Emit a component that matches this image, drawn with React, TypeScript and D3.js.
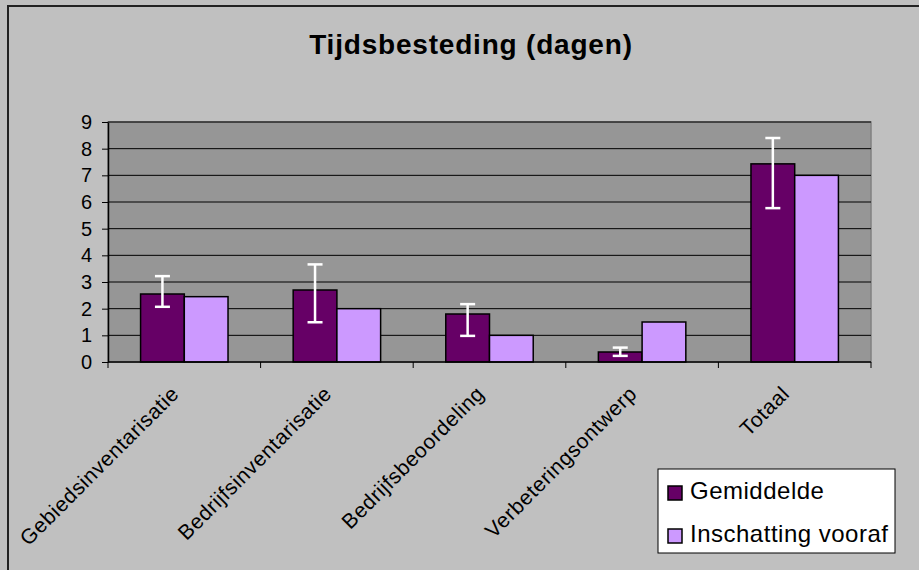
import React, { useEffect, useRef } from "react";
import * as d3 from "d3";

const categories = [
  "Gebiedsinventarisatie",
  "Bedrijfsinventarisatie",
  "Bedrijfsbeoordeling",
  "Verbeteringsontwerp",
  "Totaal",
];
const seriesNames = ["Gemiddelde", "Inschatting vooraf"];
const gemiddelde = [2.55, 2.7, 1.8, 0.375, 7.43];
const inschatting = [2.45, 2.0, 1.0, 1.5, 7.0];
const errHigh = [3.22, 3.66, 2.17, 0.54, 8.4];
const errLow = [2.07, 1.49, 0.98, 0.23, 5.77];
const yTicks = [0, 1, 2, 3, 4, 5, 6, 7, 8, 9];

const colors = ["#660066", "#CC99FF"];

const App = () => {
  const chartRef = useRef<SVGSVGElement>(null);

  useEffect(() => {
    const svg = d3.select(chartRef.current);
    svg.selectAll("*").remove();

    const width = 919;
    const height = 570;
    const plot = { left: 108, right: 871, top: 122, bottom: 362 };
    const font = "Arial, 'Liberation Sans', sans-serif";

    // chart background + border (left/top visible only)
    svg.append("rect")
      .attr("x", 0).attr("y", 0)
      .attr("width", width).attr("height", height)
      .attr("fill", "#C0C0C0");
    svg.append("rect")
      .attr("x", 8).attr("y", 6)
      .attr("width", width + 20).attr("height", height + 20)
      .attr("fill", "#C0C0C0")
      .attr("stroke", "#222")
      .attr("stroke-width", 2);

    // title
    svg.append("text")
      .attr("x", 471).attr("y", 54)
      .attr("text-anchor", "middle")
      .attr("font-family", font)
      .attr("font-weight", "bold")
      .attr("font-size", 28)
      .attr("letter-spacing", 0.8)
      .text("Tijdsbesteding (dagen)");

    const yScale = d3.scaleLinear().domain([0, 9]).range([plot.bottom, plot.top]);
    const x0 = d3.scaleBand().domain(categories).range([plot.left, plot.right]).padding(0);
    const x1 = d3.scaleBand()
      .domain(seriesNames)
      .range([0, x0.bandwidth()])
      .paddingInner(0)
      .paddingOuter(0.745);

    // plot area
    svg.append("rect")
      .attr("x", plot.left).attr("y", plot.top)
      .attr("width", plot.right - plot.left)
      .attr("height", plot.bottom - plot.top)
      .attr("fill", "#969696")
      .attr("stroke", "#808080")
      .attr("stroke-width", 1.5);

    // gridlines
    svg.append("g")
      .selectAll("line")
      .data(yTicks.slice(1))
      .enter().append("line")
      .attr("x1", plot.left).attr("x2", plot.right)
      .attr("y1", d => yScale(d)).attr("y2", d => yScale(d))
      .attr("stroke", "#000")
      .attr("stroke-width", 1);

    // bars
    const values = [gemiddelde, inschatting];
    values.forEach((vals, si) => {
      svg.append("g")
        .selectAll("rect")
        .data(vals)
        .enter().append("rect")
        .attr("x", (d, i) => x0(categories[i])! + x1(seriesNames[si])!)
        .attr("y", d => yScale(d))
        .attr("width", x1.bandwidth())
        .attr("height", d => plot.bottom - yScale(d))
        .attr("fill", colors[si])
        .attr("stroke", "#000")
        .attr("stroke-width", 1.5);
    });

    // error bars on Gemiddelde
    const eb = svg.append("g").attr("stroke", "#fff").attr("stroke-width", 2.5);
    categories.forEach((c, i) => {
      const cx = x0(c)! + x1(seriesNames[0])! + x1.bandwidth() / 2;
      const capW = 7.5;
      eb.append("line")
        .attr("x1", cx).attr("x2", cx)
        .attr("y1", yScale(errHigh[i])).attr("y2", yScale(errLow[i]));
      [errHigh[i], errLow[i]].forEach(v => {
        eb.append("line")
          .attr("x1", cx - capW).attr("x2", cx + capW)
          .attr("y1", yScale(v)).attr("y2", yScale(v));
      });
    });

    // y axis
    const yAxis = svg.append("g")
      .attr("transform", `translate(${plot.left},0)`)
      .call(d3.axisLeft(yScale).tickValues(yTicks).tickSize(6).tickPadding(10).tickSizeOuter(0));
    yAxis.select(".domain").attr("stroke", "#000").attr("stroke-width", 1.5);
    yAxis.selectAll(".tick line").attr("stroke", "#000");
    yAxis.selectAll(".tick text")
      .attr("font-family", font)
      .attr("font-size", 20)
      .attr("fill", "#000");

    // x axis: ticks on category boundaries
    const boundaries = categories.map(c => x0(c)!).concat([plot.right]);
    svg.append("line")
      .attr("x1", plot.left).attr("x2", plot.right)
      .attr("y1", plot.bottom).attr("y2", plot.bottom)
      .attr("stroke", "#000").attr("stroke-width", 1.5);
    svg.append("g")
      .selectAll("line")
      .data(boundaries)
      .enter().append("line")
      .attr("x1", d => d).attr("x2", d => d)
      .attr("y1", plot.bottom).attr("y2", plot.bottom + 6)
      .attr("stroke", "#000");

    svg.append("g")
      .selectAll("text")
      .data(categories)
      .enter().append("text")
      .attr("transform", d => `translate(${x0(d)! + x0.bandwidth() / 2 - 4},${plot.bottom + 33}) rotate(-45)`)
      .attr("text-anchor", "end")
      .attr("font-family", font)
      .attr("font-size", 21)
      .attr("letter-spacing", 0.6)
      .attr("fill", "#000")
      .text(d => d);

    // legend
    const lg = svg.append("g").attr("transform", "translate(658,469)");
    lg.append("rect")
      .attr("width", 237).attr("height", 84)
      .attr("fill", "#fff")
      .attr("stroke", "#000")
      .attr("stroke-width", 1);
    seriesNames.forEach((s, i) => {
      lg.append("rect")
        .attr("x", 10).attr("y", 17 + i * 43)
        .attr("width", 14).attr("height", 14)
        .attr("fill", colors[i])
        .attr("stroke", "#000")
        .attr("stroke-width", 1.5);
      lg.append("text")
        .attr("x", 32).attr("y", 30 + i * 43)
        .attr("font-family", font)
        .attr("font-size", 24)
        .attr("letter-spacing", 0.5)
        .attr("fill", "#000")
        .text(s);
    });
  }, []);

  return (
    <svg
      ref={chartRef}
      width={919}
      height={570}
      style={{ position: "absolute", left: 0, top: 0 }}
    />
  );
};

export default App;
